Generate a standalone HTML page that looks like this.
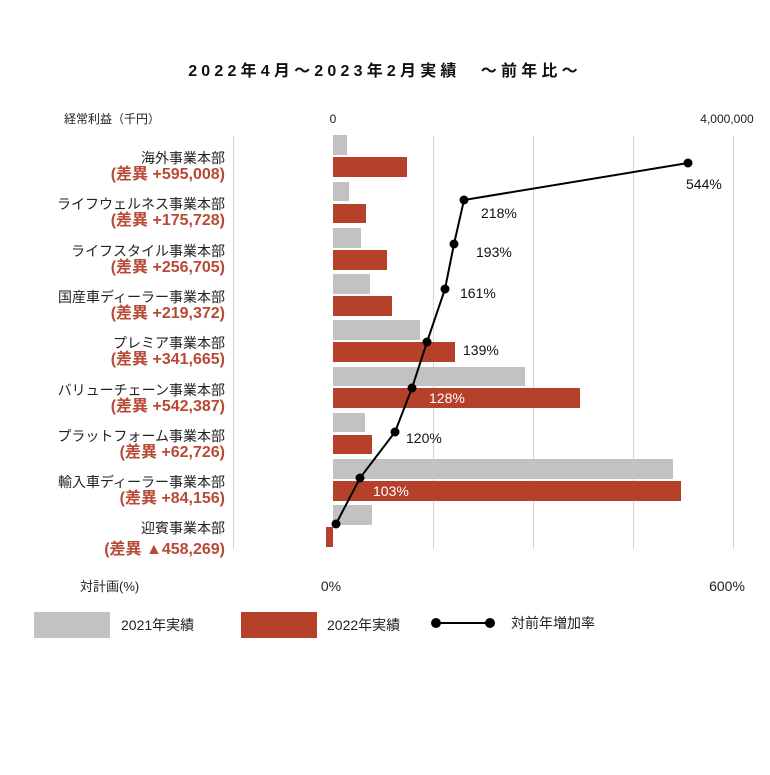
<!DOCTYPE html>
<html><head><meta charset="utf-8"><style>
body{margin:0;background:#fff;}
svg text{font-family:"Liberation Sans","Noto Sans CJK JP",sans-serif;}
</style></head><body>
<svg width="770" height="770" xmlns="http://www.w3.org/2000/svg">
<rect width="770" height="770" fill="#fff"/>
<text x="385" y="76" text-anchor="middle" font-size="16" font-weight="bold" letter-spacing="4.2" fill="#111">2022年4月～2023年2月実績　～前年比～</text>
<text x="64" y="123" font-size="12" fill="#222">経常利益（千円）</text>
<text x="333" y="123" font-size="12" text-anchor="middle" fill="#222">0</text>
<text x="727" y="123" font-size="12" text-anchor="middle" fill="#222">4,000,000</text>
<g stroke="#d4d4d4" stroke-width="1">
<line x1="233.5" y1="136" x2="233.5" y2="549"/>
<line x1="433.5" y1="136" x2="433.5" y2="549"/>
<line x1="533.5" y1="136" x2="533.5" y2="549"/>
<line x1="633.5" y1="136" x2="633.5" y2="549"/>
<line x1="733.5" y1="136" x2="733.5" y2="549"/>
</g>
<g fill="#c2c2c2">
<rect x="333" y="135" width="14" height="20"/>
<rect x="333" y="182" width="16" height="19"/>
<rect x="333" y="228" width="28" height="20"/>
<rect x="333" y="274" width="37" height="20"/>
<rect x="333" y="320" width="87" height="20"/>
<rect x="333" y="367" width="192" height="19"/>
<rect x="333" y="413" width="32" height="19"/>
<rect x="333" y="459" width="340" height="20"/>
<rect x="333" y="505" width="39" height="20"/>
</g>
<g fill="#b5412b">
<rect x="333" y="157" width="74" height="20"/>
<rect x="333" y="204" width="33" height="19"/>
<rect x="333" y="250" width="54" height="20"/>
<rect x="333" y="296" width="59" height="20"/>
<rect x="333" y="342" width="122" height="20"/>
<rect x="333" y="388" width="247" height="20"/>
<rect x="333" y="435" width="39" height="19"/>
<rect x="333" y="481" width="348" height="20"/>
<rect x="326" y="527" width="7" height="20"/>
</g>
<polyline fill="none" stroke="#000" stroke-width="2" points="688,163 464,200 454,244 445,289 427,342 412,388 395,432 360,478 336,524"/>
<g fill="#000">
<circle cx="688" cy="163" r="4.5"/><circle cx="464" cy="200" r="4.5"/><circle cx="454" cy="244" r="4.5"/>
<circle cx="445" cy="289" r="4.5"/><circle cx="427" cy="342" r="4.5"/><circle cx="412" cy="388" r="4.5"/>
<circle cx="395" cy="432" r="4.5"/><circle cx="360" cy="478" r="4.5"/><circle cx="336" cy="524" r="4.5"/>
</g>
<g font-size="14" fill="#111">
<text x="686" y="189">544%</text>
<text x="481" y="218">218%</text>
<text x="476" y="257">193%</text>
<text x="460" y="298">161%</text>
<text x="463" y="355">139%</text>
<text x="429" y="403" fill="#fff">128%</text>
<text x="406" y="443">120%</text>
<text x="373" y="496" fill="#fff">103%</text>
</g>
<g text-anchor="end">
<g font-size="14" fill="#222">
<text x="225" y="163">海外事業本部</text>
<text x="225" y="209">ライフウェルネス事業本部</text>
<text x="225" y="256">ライフスタイル事業本部</text>
<text x="225" y="302">国産車ディーラー事業本部</text>
<text x="225" y="348">プレミア事業本部</text>
<text x="225" y="395">バリューチェーン事業本部</text>
<text x="225" y="441">プラットフォーム事業本部</text>
<text x="225" y="487">輸入車ディーラー事業本部</text>
<text x="225" y="533">迎賓事業本部</text>
</g>
<g font-size="16" font-weight="bold" fill="#b84a35">
<text x="225" y="179">(差異 +595,008)</text>
<text x="225" y="225">(差異 +175,728)</text>
<text x="225" y="272">(差異 +256,705)</text>
<text x="225" y="318">(差異 +219,372)</text>
<text x="225" y="364">(差異 +341,665)</text>
<text x="225" y="411">(差異 +542,387)</text>
<text x="225" y="457">(差異 +62,726)</text>
<text x="225" y="503">(差異 +84,156)</text>
<text x="225" y="554">(差異 ▲458,269)</text>
</g>
</g>
<text x="80" y="591" font-size="13" fill="#222">対計画(%)</text>
<text x="331" y="591" font-size="14" text-anchor="middle" fill="#222">0%</text>
<text x="727" y="591" font-size="14" text-anchor="middle" fill="#222">600%</text>
<rect x="34" y="612" width="76" height="26" fill="#c2c2c2"/>
<text x="121" y="630" font-size="14" fill="#222">2021年実績</text>
<rect x="241" y="612" width="76" height="26" fill="#b5412b"/>
<text x="327" y="630" font-size="14" fill="#222">2022年実績</text>
<line x1="436" y1="623" x2="490" y2="623" stroke="#000" stroke-width="2"/>
<circle cx="436" cy="623" r="5"/><circle cx="490" cy="623" r="5"/>
<text x="511" y="628" font-size="14" fill="#222">対前年増加率</text>
</svg>
</body></html>
